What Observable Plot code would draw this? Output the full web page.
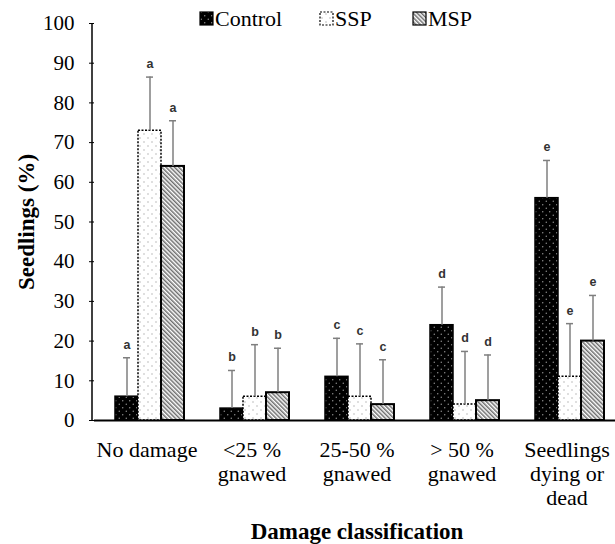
<!DOCTYPE html>
<html>
<head>
<meta charset="utf-8">
<script src="https://cdn.jsdelivr.net/npm/d3@7"></script>
<script src="https://cdn.jsdelivr.net/npm/@observablehq/plot@0.6"></script>
<style>html,body{margin:0;background:#fff}</style>
</head>
<body>
<div id="chart"></div>
<script>
// ---- data ----
const categories = ["No damage", "<25 % gnawed", "25-50 % gnawed", "> 50 % gnawed", "Seedlings dying or dead"];
const categoryLabels = ["No damage", "<25 %\ngnawed", "25-50 %\ngnawed", "> 50 %\ngnawed", "Seedlings\ndying or\ndead"];
const series = ["Control", "SSP", "MSP"];
const control = [6, 3, 11, 24, 56];
const ssp = [73, 6, 6, 4, 11];
const msp = [64, 7, 4, 5, 20];
const controlErr = [9.8, 9.6, 9.7, 9.6, 9.5];
const sspErr = [13.5, 13.1, 13.3, 13.4, 13.4];
const mspErr = [11.5, 11.2, 11.3, 11.5, 11.5];
const letters = ["a", "b", "c", "d", "e"];
const yTicks = [0, 10, 20, 30, 40, 50, 60, 70, 80, 90, 100];

const values = {Control: control, SSP: ssp, MSP: msp};
const errors = {Control: controlErr, SSP: sspErr, MSP: mspErr};
const rows = [];
categories.forEach((c, i) => series.forEach(s => rows.push({
  category: c, series: s, value: values[s][i], err: errors[s][i], top: values[s][i] + errors[s][i], letter: letters[i]
})));

const serif = "'Liberation Serif', serif";
const fills = {Control: "url(#pCtrl)", SSP: "url(#pSSP)", MSP: "url(#pMSP)"};
const barStyle = {
  Control: {stroke: "#000", strokeWidth: 1.5},
  SSP: {stroke: "#000", strokeWidth: 1.5, strokeDasharray: "2,1.5"},
  MSP: {stroke: "#000", strokeWidth: 2}
};

const chart = Plot.plot({
  width: 615,
  height: 544,
  marginTop: 23,
  marginBottom: 124,
  marginLeft: 92,
  marginRight: -5,
  style: "font-family: 'Liberation Serif', serif; background: white;",
  fx: {domain: categories, padding: 0},
  x: {domain: series, paddingInner: 0, paddingOuter: 0.7, align: 0.595, axis: null},
  y: {domain: [0, 100]},
  marks: [
    ...series.map(s => Plot.barY(rows.filter(d => d.series === s), {
      fx: "category", x: "series", y: "value", fill: fills[s], ...barStyle[s]
    })),
    Plot.ruleX(rows, {fx: "category", x: "series", y1: "value", y2: "top", stroke: "#7f7f7f", strokeWidth: 1.5}),
    Plot.tickY(rows, {fx: "category", x: "series", y: "top", stroke: "#7f7f7f", strokeWidth: 1.5, inset: 8}),
    Plot.text(rows, {fx: "category", x: "series", y: "top", text: "letter", dy: -13,
      fontFamily: "'Liberation Sans', sans-serif", fontWeight: "bold", fontSize: 12.5, fill: "#333"}),
    Plot.ruleY([0], {stroke: "#000", strokeWidth: 2}),
    Plot.axisY({ticks: yTicks, tickSize: 5, tickPadding: 15, fontSize: 21, fontFamily: serif,
      label: "Seedlings (%)", labelArrow: false, labelAnchor: "center", labelOffset: 77}),
    Plot.axisFx({anchor: "bottom", tickSize: 0, tickPadding: 19, fontSize: 22, lineHeight: 1.1, fontFamily: serif,
      tickFormat: d => categoryLabels[categories.indexOf(d)],
      label: "Damage classification", labelArrow: false, labelAnchor: "center", labelOffset: 118})
  ]
});

const svg = d3.select(chart);
svg.insert("defs", ":first-child").html(`
  <pattern id="pCtrl" width="7" height="7" patternUnits="userSpaceOnUse">
    <rect width="7" height="7" fill="#000"/>
    <circle cx="1.75" cy="1.75" r="0.7" fill="#9a9a9a"/>
    <circle cx="5.25" cy="5.25" r="0.7" fill="#9a9a9a"/>
  </pattern>
  <pattern id="pSSP" width="8" height="8" patternUnits="userSpaceOnUse">
    <rect width="8" height="8" fill="#fff"/>
    <circle cx="2" cy="2" r="0.7" fill="#a8a8a8"/>
    <circle cx="6" cy="6" r="0.7" fill="#a8a8a8"/>
  </pattern>
  <pattern id="pMSP" width="3" height="3" patternUnits="userSpaceOnUse" patternTransform="rotate(-45)">
    <rect width="3" height="3" fill="#fff"/>
    <line x1="0.75" y1="0" x2="0.75" y2="3" stroke="#6e6e6e" stroke-width="1.5"/>
  </pattern>
`);

// axis titles: bold, set on the text elements themselves
svg.selectAll('g[aria-label="y-axis label"] text, g[aria-label="fx-axis label"] text')
  .attr("font-family", serif).attr("font-weight", "bold").attr("font-size", 23);

// y-axis line, positioned through the plot's own scales
const yS = chart.scale("y"), fxS = chart.scale("fx");
svg.append("line")
  .attr("x1", fxS.range[0]).attr("x2", fxS.range[0])
  .attr("y1", yS.apply(0) + 1).attr("y2", yS.apply(100))
  .attr("stroke", "#000").attr("stroke-width", 1.5);

// legend (top, inside the figure)
const legendItems = [
  {name: "Control", x: 200},
  {name: "SSP", x: 320},
  {name: "MSP", x: 413}
];
const lg = svg.append("g").attr("aria-label", "legend");
legendItems.forEach(it => {
  const st = barStyle[it.name];
  lg.append("rect").attr("x", it.x).attr("y", 12).attr("width", 13).attr("height", 13)
    .attr("fill", fills[it.name]).attr("stroke", "#000").attr("stroke-width", 1.2)
    .attr("stroke-dasharray", st.strokeDasharray || null);
  lg.append("text").attr("x", it.x + 15).attr("y", 26).attr("text-anchor", "start")
    .attr("font-family", serif).attr("font-size", 22).attr("fill", "#000").text(it.name);
});

document.getElementById("chart").appendChild(chart);
</script>
</body>
</html>
